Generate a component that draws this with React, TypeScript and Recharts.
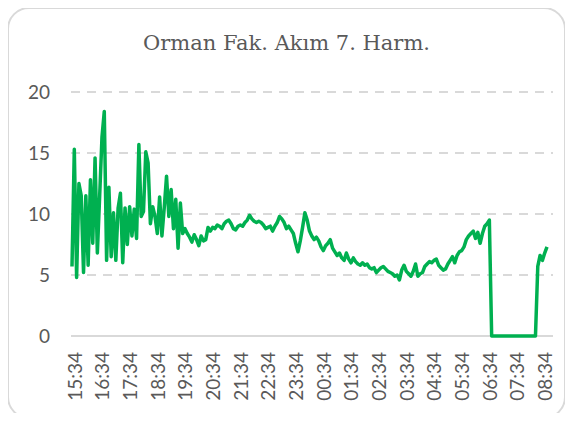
import { LineChart, Line, XAxis, YAxis, CartesianGrid } from 'recharts';

// 5 dakikalık örnekler, 15:34'ten itibaren
const startMinutes = 15 * 60 + 34;
const stepMinutes = 5;

const harmonic7 = [
  5.7, 15.3, 4.8, 12.5, 11.5, 5.2, 11.5, 5.8, 12.8, 7.6,
  14.6, 6.8, 11.5, 16.3, 18.4, 6.2, 12.2, 6.5, 10.1, 6.2,
  10.5, 11.7, 6.0, 10.5, 7.5, 10.6, 8.2, 10.4, 8.0, 15.7,
  9.8, 10.2, 15.1, 14.2, 9.2, 10.6, 9.8, 8.4, 11.4, 8.2,
  10.5, 13.1, 9.8, 12.0, 8.8, 11.2, 7.2, 10.9, 8.4, 8.8,
  8.4, 8.1, 7.7, 8.3, 7.9, 7.4, 8.2, 7.8, 7.9, 8.9,
  8.6, 8.9, 8.8, 9.1, 9.0, 8.8, 9.2, 9.4, 9.5, 9.2,
  8.8, 8.7, 9.0, 9.1, 9.0, 9.3, 9.5, 9.9, 9.6, 9.4,
  9.3, 9.4, 9.3, 9.1, 8.8, 8.9, 9.0, 8.6, 9.0, 9.3,
  9.8, 9.6, 9.3, 8.8, 9.0, 8.7, 8.4, 7.6, 6.9, 7.8,
  8.9, 10.1, 9.5, 8.6, 8.2, 7.9, 8.1, 7.8, 7.3, 7.0,
  7.4, 7.6, 7.9, 7.2, 6.9, 6.6, 6.8, 6.4, 6.2, 6.8,
  6.3, 6.0, 6.4, 6.1, 5.9, 5.8, 6.0, 5.8, 5.9, 5.6,
  5.5, 5.6, 5.2, 5.4, 5.6, 5.7, 5.5, 5.3, 5.2, 5.1,
  4.9, 5.0, 4.6, 5.4, 5.8, 5.3, 5.1, 4.9, 5.3, 5.9,
  4.9, 5.1, 5.2, 5.7, 5.9, 6.1, 6.0, 6.2, 6.3, 5.8,
  5.6, 5.4, 5.5, 5.9, 6.2, 6.5, 6.0, 6.6, 6.9, 7.0,
  7.3, 7.9, 8.2, 8.4, 8.6, 8.0, 8.5, 7.6, 8.4, 9.0,
  9.2, 9.5, 0, 0, 0, 0, 0, 0, 0, 0,
  0, 0, 0, 0, 0, 0, 0, 0, 0, 0,
  0, 0, 5.7, 6.6, 6.2, 6.8, 7.3,
];

const yTicks = [0, 5, 10, 15, 20];

const pad = (n: number) => String(n).padStart(2, '0');

const data = harmonic7.map((value, i) => {
  const m = (startMinutes + i * stepMinutes) % 1440;
  return { time: `${pad(Math.floor(m / 60))}:${pad(m % 60)}`, value };
});

const TimeTick = (props: any) => {
  const { x, y, payload } = props;
  return (
    <g transform={`translate(${x + 3},${y})`}>
      <text
        transform='rotate(-90)'
        x={0}
        y={0}
        dy='0.35em'
        textAnchor='end'
        fill='#595959'
        fontSize={19}
        fontFamily='Lato'
      >
        {payload.value}
      </text>
    </g>
  );
};

const App = () => {
  return (
    <div style={{ position: 'relative', width: 573, height: 421, margin: -8, background: '#fff' }}>
      {/* kart çerçevesi */}
      <div
        style={{
          position: 'absolute',
          left: 7,
          top: 7,
          width: 555,
          height: 408,
          border: '2px solid #D9D9D9',
          borderRadius: 22,
        }}
      />
      {/* başlık */}
      <div
        style={{
          position: 'absolute',
          top: 31,
          width: '100%',
          textAlign: 'center',
          fontFamily: 'DejaVu Serif',
          fontSize: 21,
          color: '#595959',
        }}
      >
        Orman Fak. Akım 7. Harm.
      </div>
      <div style={{ position: 'absolute', left: 0, top: 0 }}>
        <LineChart
          width={573}
          height={421}
          data={data}
          margin={{ top: 92, right: 20, bottom: 25, left: 0 }}
        >
          <CartesianGrid
            vertical={false}
            stroke='#D9D9D9'
            strokeWidth={2}
            strokeDasharray='9 7'
          />
          <XAxis
            dataKey='time'
            interval={11}
            height={60}
            tickSize={0}
            tickMargin={16}
            tick={<TimeTick />}
            axisLine={{ stroke: '#D9D9D9', strokeWidth: 2 }}
            tickLine={false}
            padding={{ left: 1, right: 6 }}
          />
          <YAxis
            domain={[0, 20]}
            ticks={yTicks}
            width={71}
            tickSize={0}
            tickMargin={21}
            axisLine={false}
            tickLine={false}
            tick={{ fill: '#595959', fontSize: 19, fontFamily: 'Lato' }}
          />
          <Line
            type='linear'
            dataKey='value'
            stroke='#00B050'
            strokeWidth={3.5}
            strokeLinejoin='round'
            dot={false}
            zIndex={900}
            isAnimationActive={false}
          />
        </LineChart>
      </div>
    </div>
  );
};

export default App;
